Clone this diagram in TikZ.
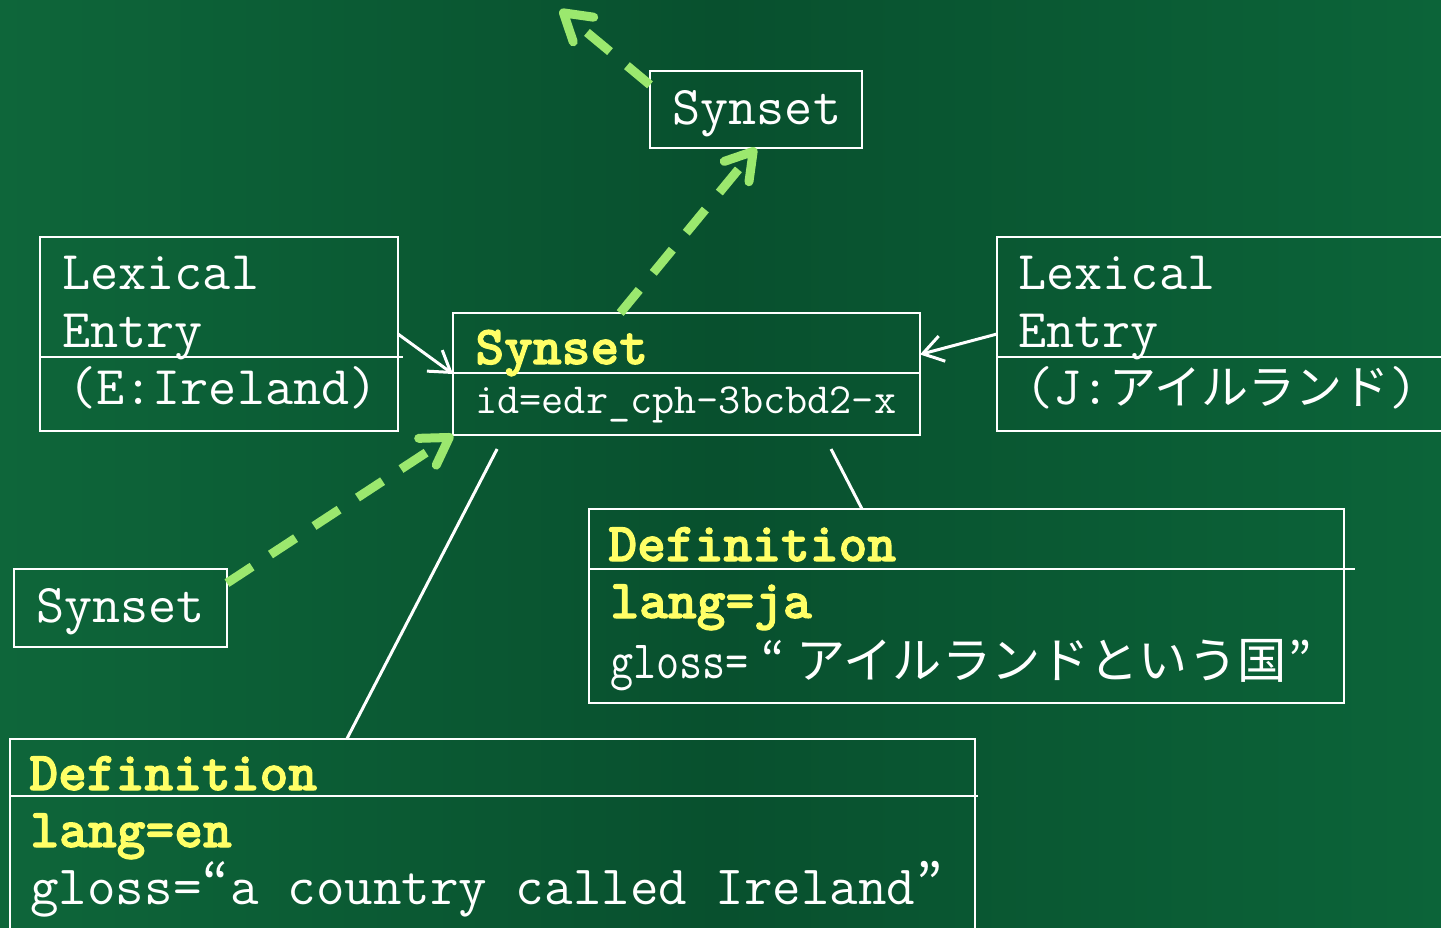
\documentclass[tikz,border=0pt]{standalone}
\usepackage{fontspec}
\newfontfamily\jpfont{Noto Sans CJK JP}
\newfontfamily\ttheavy{lmmonolt10-bold.otf}[FakeBold=2]
\usetikzlibrary{arrows.meta,calc}

\definecolor{boardA}{RGB}{14,102,58}
\definecolor{boardB}{RGB}{8,80,46}
\definecolor{boardC}{RGB}{12,100,57}
\definecolor{hilite}{RGB}{255,255,102}
\definecolor{linkgreen}{RGB}{155,232,110}

\tikzset{
  box/.style={draw=white, line width=1pt, inner sep=0pt, outer sep=0pt},
  rule/.style={draw=white, line width=1pt},
  txt/.style={anchor=base west, inner sep=0pt, text=white,
              font=\ttfamily\fontsize{27.3}{27.3}\selectfont},
  smalltxt/.style={txt, font=\ttfamily\fontsize{21.5}{21.5}\selectfont},
  headtxt/.style={txt, text=hilite, font=\ttheavy\fontsize{27.4}{27.4}\selectfont},
  glosstxt/.style={txt, font=\ttfamily\fontsize{27.7}{27.7}\selectfont},
  wline/.style={draw=white, line width=1.5pt},
  warrow/.style={wline, -{Straight Barb[length=10pt,width=13pt]}},
  garrow/.style={draw=linkgreen, line width=4.5pt, dash pattern=on 15pt off 11pt,
                 -{Straight Barb[length=13pt,width=16pt,round]}},
}
% a quote mark set in a box of given width and alignment
\newcommand{\jpq}[3]{\makebox[#1][#2]{\jpfont #3}}

\begin{document}
\begin{tikzpicture}[x=0.5pt,y=-0.5pt]
  % board
  \useasboundingbox (0,0) rectangle (1441,927);
  \shade[left color=boardA, right color=boardC, middle color=boardB]
    (0,0) rectangle (1441,927);

  % boxes
  \node[box, minimum width=106pt, minimum height=38.5pt] (topS) at (756,109.5) {};
  \node[box, minimum width=233.5pt, minimum height=61pt] (mainS) at (686.5,374) {};
  \node[box, minimum width=179pt, minimum height=97pt] (lexL) at (219,334) {};
  \node[box, minimum width=231.5pt, minimum height=97pt] (lexR) at (1228.5,334) {};
  \node[box, minimum width=106.5pt, minimum height=39pt] (leftS) at (120.5,608) {};
  \node[box, minimum width=377.5pt, minimum height=97pt] (defJa) at (966.5,606) {};
  \node[box, minimum width=482.5pt, minimum height=110.5pt] (defEn) at (492.5,849.5) {};

  % compartment rules
  \draw[rule] (453,373) -- (920,373);
  \draw[rule] (40,357) -- (403,357);
  \draw[rule] (997,357) -- (1441,357);
  \draw[rule] (589,569) -- (1355,569);
  \draw[rule] (10,796) -- (978,796);

  % texts
  \node[txt] (topSt) at (672,124) {Synset};
  \node[txt] (leftSt) at (36,622) {Synset};

  \node[headtxt] (mainSh) at (475,364) {Synset};
  \node[smalltxt] (mainSid) at (475,413) {id=edr\_cph-3bcbd2-x};

  \node[txt] (lexLa) at (62,289) {Lexical};
  \node[txt] (lexLb) at (62,347) {Entry};
  \node[txt] (lexLc) at (68,404) {(E:Ireland)};

  \node[txt] (lexRa) at (1018,289) {Lexical};
  \node[txt] (lexRb) at (1018,347) {Entry};
  \node[txt] (lexRc) at (1025,404) {(J:{\jpfont\fontsize{23.5}{23.5}\selectfont アイルランド})};

  \node[headtxt] (defJah) at (608,561) {Definition};
  \node[headtxt] (defJal) at (610,618) {lang=ja};
  \node[txt] (defJag) at (610,678)
    {\scalebox{0.83}[1]{\fontsize{27}{27}\selectfont gloss=}%
     {\fontsize{24.6}{24.6}\selectfont\jpq{24pt}{c}{“}{\jpfont アイルランドという国}\jpq{14pt}{c}{”}}};

  \node[headtxt] (defEnh) at (29,790) {Definition};
  \node[headtxt] (defEnl) at (30,847) {lang=en};
  \node[glosstxt] (defEng) at (30,904)
    {gloss=\jpq{14.54pt}{c}{“}a country called Ireland\jpq{14.54pt}{c}{”}};

  % connectors
  \coordinate (upOut) at (560,10);
  \draw[warrow] (lexL.east) -- (mainS.west);
  \draw[warrow] (lexR.west) -- ($(mainS.north east)!0.34!(mainS.south east)$);
  \draw[garrow] ($(mainS.north west)!0.358!(mainS.north east)$) -- (topS.south);
  \draw[garrow] ($(topS.north west)!0.18!(topS.south west)$) -- (upOut);
  \draw[garrow] ($(leftS.north east)!0.18!(leftS.south east)$) -- (mainS.south west);
  \draw[wline, shorten <=7.9pt] ($(mainS.south west)!0.11!(mainS.south east)$)
    -- ($(defEn.north west)!0.349!(defEn.north east)$);
  \draw[wline, shorten <=7.9pt] ($(mainS.south west)!0.794!(mainS.south east)$)
    -- ($(defJa.north west)!0.3616!(defJa.north east)$);
\end{tikzpicture}
\end{document}
